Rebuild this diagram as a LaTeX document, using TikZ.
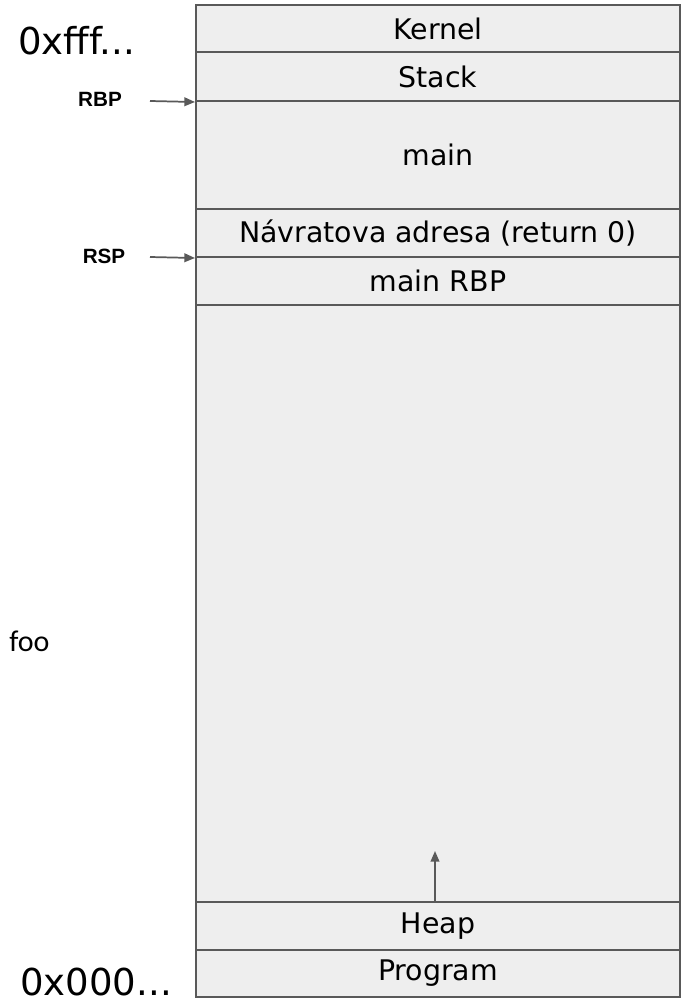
\documentclass[tikz,border=0pt]{standalone}
\usepackage{fontspec}
\setmainfont{DejaVu Sans}
\newfontfamily\labfont{Liberation Sans}
\newfontfamily\foofont{Carlito}
\usetikzlibrary{fit,arrows.meta}
\definecolor{cellfill}{HTML}{EEEEEE}
\definecolor{celldraw}{HTML}{595959}
\definecolor{arrgray}{HTML}{595959}
\tikzset{
  cell/.style={draw=celldraw, fill=cellfill, line width=1.5pt, inner sep=0pt, rectangle},
  celltext/.style={font=\fontsize{21.3}{24}\selectfont, inner sep=0pt},
  arr/.style={draw=arrgray, line width=1.3pt, -{Triangle[length=8pt,width=6.5pt]}},
  bigaddr/.style={font=\fontsize{27.8}{30}\selectfont, anchor=base west, inner sep=0pt},
  reg/.style={font=\labfont\bfseries\fontsize{15.5}{17}\selectfont, inner sep=0pt},
}
\begin{document}
\begin{tikzpicture}[x=0.75pt,y=-0.75pt]
\useasboundingbox (0,0) rectangle (688,999);
\node[cell, fit={(196,5) (680,52)}] (kernel) {};
\node[celltext] at (kernel.center) {Kernel};
\node[cell, fit={(196,52) (680,101)}] (stack) {};
\node[celltext] at (stack.center) {Stack};
\node[cell, fit={(196,101) (680,209)}] (main) {};
\node[celltext] at (main.center) {main};
\node[cell, fit={(196,209) (680,257)}] (ret) {};
\node[celltext] at (ret.center) {Návratova adresa (return 0)};
\node[cell, fit={(196,257) (680,305)}] (mrbp) {};
\node[celltext] at (mrbp.center) {main RBP};
\node[cell, fit={(196,305) (680,902)}] (foo) {};
\node[cell, fit={(196,902) (680,950)}] (heap) {};
\node[celltext] at (heap.center) {Heap};
\node[cell, fit={(196,950) (680,997)}] (prog) {};
\node[celltext] at (prog.center) {Program};

\node[bigaddr] (hi) at (18,55) {0xfff...};
\node[bigaddr] (lo) at (20,995) {0x000...};
\node[reg] (rbp) at (100,99) {RBP};
\node[reg] (rsp) at (104,256.5) {RSP};
\node[font=\foofont\fontsize{22.5}{25}\selectfont, anchor=base west, inner sep=0pt] (foolab) at (9,651) {foo};

\coordinate (rbpS) at (150,101);
\coordinate (rspS) at (150,257);
\coordinate (heapT) at (435,851);
\draw[arr] (rbpS) -- (stack.south west);
\draw[arr] (rspS) -- (ret.south west);
\draw[arr] (heap.north -| heapT) -- (heapT);
\end{tikzpicture}
\end{document}
